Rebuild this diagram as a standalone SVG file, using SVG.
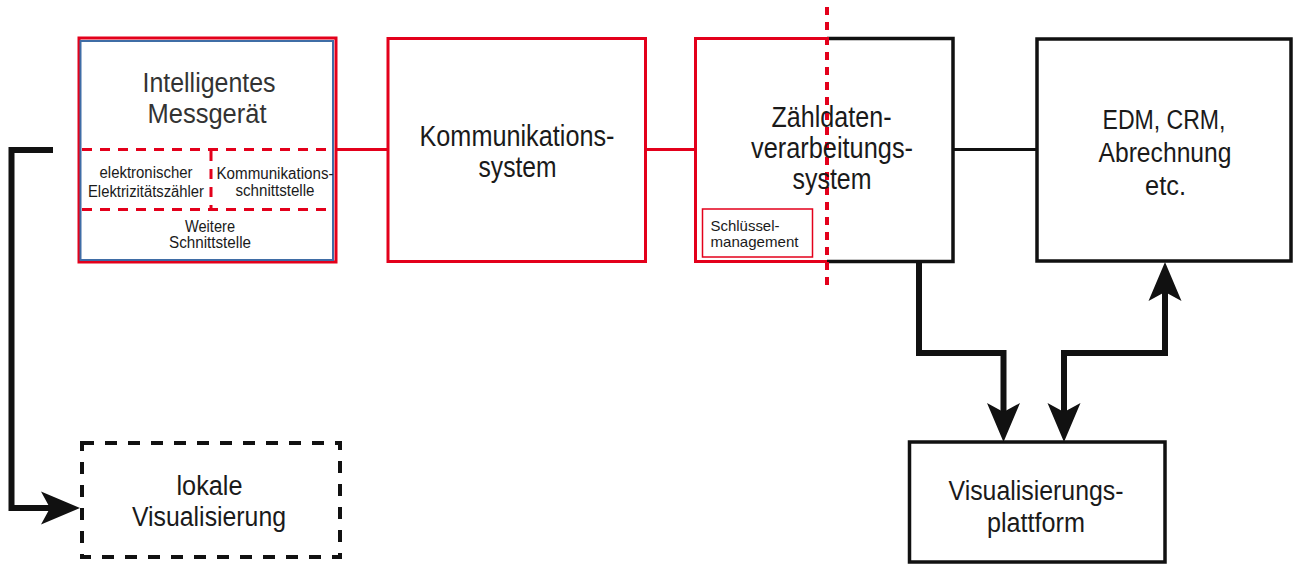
<svg xmlns="http://www.w3.org/2000/svg" width="1295" height="564" viewBox="0 0 1295 564">
<style>
text{font-family:"Liberation Sans",Arial,sans-serif;fill:#1a1a1a;text-anchor:middle}
.big{font-size:29px}
.sm{font-size:16px}
.red{fill:none;stroke:#e3001b;stroke-width:3}
.blk{fill:none;stroke:#111;stroke-width:3.5}
.rdash{fill:none;stroke:#e3001b;stroke-width:3;stroke-dasharray:10 8}
.conn{fill:none;stroke:#111;stroke-width:6;stroke-linejoin:miter}
</style>
<defs>
<marker id="ah" viewBox="-40 -18 42 36" markerWidth="42" markerHeight="36" refX="-30" refY="0" markerUnits="userSpaceOnUse" orient="auto-start-reverse" overflow="visible">
<path d="M0,0 L-39,-16.5 L-30,0 L-39,16.5 Z" fill="#111"/>
</marker>
</defs>
<rect width="1295" height="564" fill="#fff"/>

<g id="connectors">
<line x1="336" y1="149.5" x2="388" y2="149.5" class="red"/>
<line x1="645" y1="149.5" x2="695" y2="149.5" class="red"/>
<line x1="953" y1="149.5" x2="1036" y2="149.5" stroke="#111" stroke-width="3"/>
<path d="M53,150 L11.5,150 L11.5,508 L50,508" class="conn" marker-end="url(#ah)"/>
<path d="M919,262 L919,353 L1003.5,353 L1003.5,412" class="conn" marker-end="url(#ah)"/>
<path d="M1064,412 L1064,353 L1165,353 L1165,292" class="conn" marker-start="url(#ah)" marker-end="url(#ah)"/>
</g>

<g id="messgeraet">
<rect x="79" y="38" width="257" height="224" fill="#f4f6f2" class="red"/>
<rect x="80.5" y="41" width="252.5" height="219" fill="none" stroke="#3f6da6" stroke-width="2"/>
<text x="209" y="91.5" style="font-size:27px;fill:#333" textLength="133" lengthAdjust="spacingAndGlyphs">Intelligentes</text>
<text x="207" y="123" style="font-size:27px;fill:#333" textLength="119" lengthAdjust="spacingAndGlyphs">Messgerät</text>
<line x1="82" y1="149.5" x2="334" y2="149.5" class="rdash"/>
<line x1="82" y1="209.5" x2="334" y2="209.5" class="rdash"/>
<line x1="211" y1="151" x2="211" y2="208" class="rdash"/>
<text x="146" y="178" class="sm" textLength="93" lengthAdjust="spacingAndGlyphs">elektronischer</text>
<text x="146" y="196.5" class="sm" textLength="116" lengthAdjust="spacingAndGlyphs">Elektrizitätszähler</text>
<text x="275" y="179" class="sm" textLength="117" lengthAdjust="spacingAndGlyphs">Kommunikations-</text>
<text x="275" y="195.5" class="sm" textLength="79" lengthAdjust="spacingAndGlyphs">schnittstelle</text>
<text x="210" y="231.5" class="sm" textLength="50" lengthAdjust="spacingAndGlyphs">Weitere</text>
<text x="210" y="248" class="sm" textLength="82" lengthAdjust="spacingAndGlyphs">Schnittstelle</text>
</g>

<g id="kommunikationssystem">
<rect x="388" y="38.5" width="257.5" height="223" fill="#fff" class="red"/>
<text x="517" y="146" class="big" textLength="195" lengthAdjust="spacingAndGlyphs">Kommunikations-</text>
<text x="517.5" y="177" class="big" textLength="78" lengthAdjust="spacingAndGlyphs">system</text>
</g>

<g id="zaehldaten">
<rect x="695" y="38.5" width="258" height="223" fill="#fff"/>
<path d="M827,38.5 L695.5,38.5 L695.5,261.5 L827,261.5" class="red"/>
<path d="M827,38.5 L953,38.5 L953,261.5 L827,261.5" class="blk"/>
<rect x="702.5" y="209" width="110" height="48" fill="none" stroke="#e3001b" stroke-width="1.5"/>
<text x="710.5" y="231" style="font-size:15px;text-anchor:start" textLength="69" lengthAdjust="spacingAndGlyphs">Schlüssel-</text>
<text x="710.5" y="247" style="font-size:15px;text-anchor:start" textLength="88" lengthAdjust="spacingAndGlyphs">management</text>
<line x1="827" y1="7" x2="827" y2="288" stroke="#e3001b" stroke-width="4" stroke-dasharray="8 7"/>
<text x="831.5" y="126.5" class="big" textLength="120" lengthAdjust="spacingAndGlyphs">Zähldaten-</text>
<text x="832" y="158" class="big" textLength="162" lengthAdjust="spacingAndGlyphs">verarbeitungs-</text>
<text x="832" y="189" class="big" textLength="79" lengthAdjust="spacingAndGlyphs">system</text>
</g>

<g id="edm">
<rect x="1037" y="39" width="254" height="222" fill="#fff" class="blk"/>
<text x="1164" y="129" style="font-size:27px" textLength="123" lengthAdjust="spacingAndGlyphs">EDM, CRM,</text>
<text x="1165" y="161.5" style="font-size:27px" textLength="133" lengthAdjust="spacingAndGlyphs">Abrechnung</text>
<text x="1165.5" y="195" style="font-size:27px" textLength="41" lengthAdjust="spacingAndGlyphs">etc.</text>
</g>

<g id="visualisierungsplattform">
<rect x="909.5" y="442" width="255.5" height="120" fill="#fff" class="blk"/>
<text x="1036" y="500" style="font-size:27px" textLength="175" lengthAdjust="spacingAndGlyphs">Visualisierungs-</text>
<text x="1036" y="531.5" style="font-size:27px" textLength="98" lengthAdjust="spacingAndGlyphs">plattform</text>
</g>

<g id="lokale-visualisierung">
<rect x="82" y="443" width="258" height="114" fill="none" stroke="#111" stroke-width="4" stroke-dasharray="12 11"/>
<text x="209.5" y="495" style="font-size:27px" textLength="66" lengthAdjust="spacingAndGlyphs">lokale</text>
<text x="209" y="526" style="font-size:27px" textLength="154" lengthAdjust="spacingAndGlyphs">Visualisierung</text>
</g>
</svg>
